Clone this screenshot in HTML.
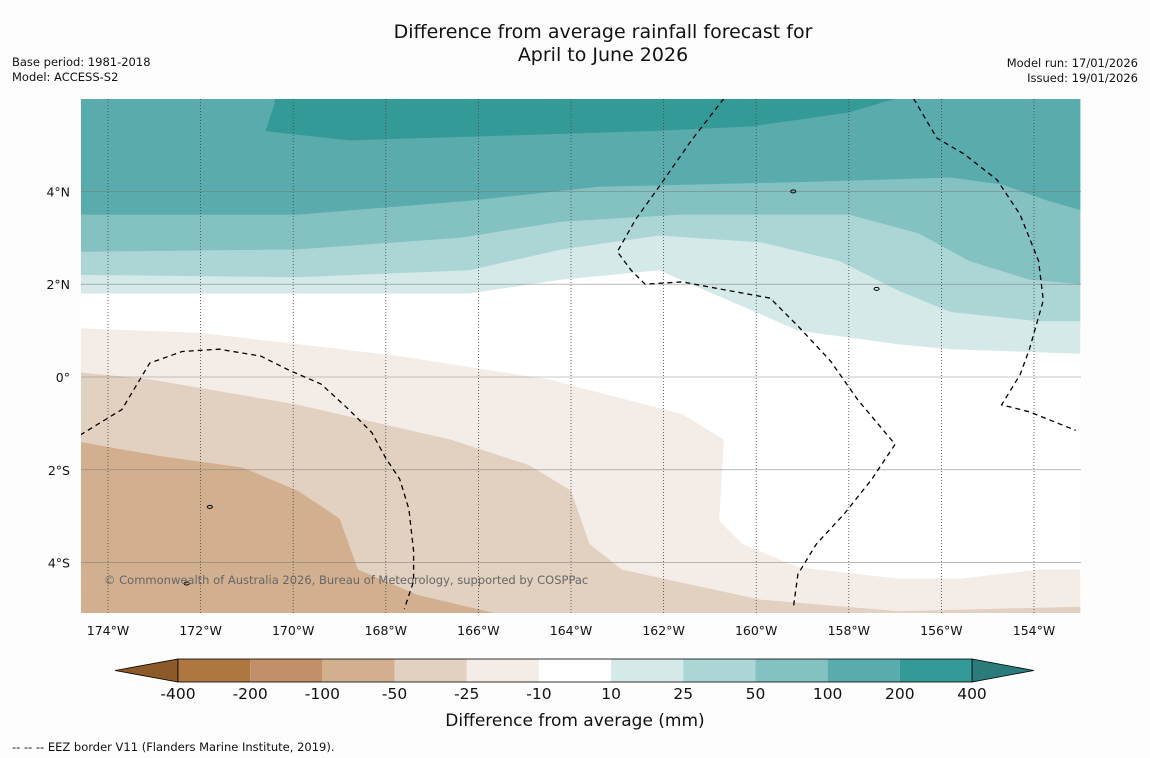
<!DOCTYPE html>
<html><head><meta charset="utf-8"><style>
body{margin:0;background:#fff;font-family:"DejaVu Sans","Liberation Sans",sans-serif;}
svg{display:block}
</style></head><body>
<svg id="c" width="1150" height="758" xmlns="http://www.w3.org/2000/svg" font-family="DejaVu Sans, Liberation Sans, sans-serif">
<rect x="0" y="0" width="1150" height="758" fill="#fdfdfd"/>
<text x="603" y="38" font-size="19" text-anchor="middle" fill="#111">Difference from average rainfall forecast for</text>
<text x="603" y="61" font-size="19" text-anchor="middle" fill="#111">April to June 2026</text>
<text x="12" y="66" font-size="11.5" fill="#111">Base period: 1981-2018</text>
<text x="12" y="81" font-size="11.5" fill="#111">Model: ACCESS-S2</text>
<text x="1138" y="67" font-size="11.5" fill="#111" text-anchor="end">Model run: 17/01/2026</text>
<text x="1138" y="82" font-size="11.5" fill="#111" text-anchor="end">Issued: 19/01/2026</text>
<g id="map"></g>
<g id="cb"></g>
<text x="575" y="726" font-size="17" text-anchor="middle" fill="#111">Difference from average (mm)</text>
<text x="12" y="751" font-size="11.5" fill="#111">--  --  -- EEZ border V11 (Flanders Marine Institute, 2019).</text>
</svg>
<script>
const lonTicks=[-174,-172,-170,-168,-166,-164,-162,-160,-158,-156,-154];
const latTicks=[4,2,0,-2,-4];
const cbLabels=["-400","-200","-100","-50","-25","-10","10","25","50","100","200","400"];
const cbColors=["#ad773f","#c19068","#d2b08f","#e2d0c0","#f4ece6","#ffffff","#d5e9e9","#acd6d6","#84c1c1","#5aabac","#339a98"];
const c10=[[-174.6,1.8],[-166.2,1.8],[-164.2,2.1],[-162.1,2.3],[-160.6,1.65],[-159.9,1.35],[-159.1,1.0],[-156.9,0.7],[-155.8,0.6],[-153.0,0.5]];
const c25=[[-174.6,2.2],[-169.9,2.15],[-166.2,2.3],[-164.2,2.75],[-162.1,3.05],[-159.9,2.9],[-158.2,2.5],[-156.9,1.85],[-155.8,1.4],[-153.9,1.2],[-153.0,1.2]];
const c50=[[-174.6,2.7],[-169.9,2.75],[-166.4,3.0],[-164.2,3.35],[-161.6,3.5],[-158.0,3.5],[-156.5,3.1],[-155.4,2.5],[-154.1,2.1],[-153.0,2.0]];
const c100=[[-174.6,3.5],[-169.9,3.5],[-166.2,3.8],[-163.4,4.1],[-159.1,4.2],[-155.8,4.3],[-154.7,4.15],[-153.7,3.8],[-153.0,3.6]];
const c200=[[-170.4,6.0],[-170.4,5.9],[-170.6,5.3],[-168.8,5.1],[-165.5,5.2],[-162.3,5.3],[-160.1,5.4],[-158.0,5.7],[-157.0,6.0]];
const m10=[[-174.6,1.05],[-172.0,0.95],[-167.7,0.45],[-164.5,-0.05],[-161.6,-0.8],[-160.7,-1.35],[-160.8,-3.1],[-160.3,-3.6],[-159.1,-4.1],[-156.9,-4.35],[-155.6,-4.35],[-153.9,-4.15],[-153.0,-4.15]];
const m25=[[-174.6,0.1],[-173.1,-0.05],[-169.9,-0.6],[-166.6,-1.35],[-164.9,-1.9],[-164.0,-2.45],[-163.6,-3.6],[-162.9,-4.15],[-159.9,-4.8],[-156.9,-5.05],[-153.0,-4.95]];
const m50=[[-174.6,-1.4],[-172.9,-1.7],[-171.1,-1.95],[-169.9,-2.45],[-169.0,-3.05],[-168.6,-4.15],[-167.3,-4.7],[-165.6,-5.1]];
const eez1=[[-174.6,-1.25],[-173.7,-0.7],[-173.1,0.3],[-172.4,0.55],[-171.6,0.6],[-170.7,0.45],[-170.1,0.15],[-169.4,-0.15],[-168.8,-0.7],[-168.3,-1.2],[-168.0,-1.75],[-167.7,-2.2],[-167.5,-2.85],[-167.4,-3.75],[-167.4,-4.4],[-167.6,-5.0]];
const eez2=[[-160.7,6.0],[-161.4,5.1],[-162.1,4.1],[-162.6,3.4],[-163.0,2.7],[-162.7,2.3],[-162.4,2.0],[-161.6,2.05],[-160.8,1.9],[-159.7,1.7],[-159.1,1.1],[-158.4,0.35],[-157.8,-0.5],[-157.0,-1.45],[-157.5,-2.2],[-158.1,-2.95],[-158.7,-3.6],[-159.1,-4.25],[-159.2,-5.0]];
const eez3=[[-156.6,6.0],[-156.1,5.15],[-155.5,4.8],[-154.8,4.25],[-154.3,3.5],[-153.9,2.5],[-153.8,1.65],[-154.1,0.6],[-154.3,0.05],[-154.7,-0.6],[-154.1,-0.75],[-153.1,-1.15]];
const X0=81,X1=1081,Y0=99,Y1=613;
const xs=lon=>108+(lon+174)*46.3;
const ys=lat=>377-lat*46.4;
const NS="http://www.w3.org/2000/svg";
const map=document.getElementById('map');
function mk(t,a,p){const e=document.createElementNS(NS,t);for(const k in a)e.setAttribute(k,a[k]);(p||map).appendChild(e);return e;}
function pts(arr){return arr.map(p=>xs(p[0]).toFixed(1)+','+ys(p[1]).toFixed(1)).join(' ');}
const cp=mk('clipPath',{id:'clp'});mk('rect',{x:X0,y:Y0,width:X1-X0,height:Y1-Y0},cp);
const g=mk('g',{'clip-path':'url(#clp)'});
let e=mk('rect',{x:X0,y:Y0,width:X1-X0,height:Y1-Y0,fill:'#fff'},g);


function topFill(arr,col,name){const a=arr.concat([[arr[arr.length-1][0],7],[arr[0][0],7]]);const p=mk('polygon',{points:pts(a),fill:col},g);

}
function botFill(arr,col,name){const a=arr.concat([[arr[arr.length-1][0],-6],[arr[0][0],-6]]);const p=mk('polygon',{points:pts(a),fill:col},g);

}
topFill(c10,cbColors[6],'contour-10-25');
topFill(c25,cbColors[7],'contour-25-50');
topFill(c50,cbColors[8],'contour-50-100');
topFill(c100,cbColors[9],'contour-100-200');
(function(){const p=mk('polygon',{points:pts(c200),fill:cbColors[10]},g);

})();
botFill(m10,cbColors[4],'contour-minus10-25');
botFill(m25,cbColors[3],'contour-minus25-50');
botFill(m50,cbColors[2],'contour-minus50-100');
latTicks.forEach(l=>{const ln=mk('line',{x1:X0,x2:X1,y1:ys(l),y2:ys(l),stroke:'#777','stroke-width':0.6,opacity:0.8},g);


const t=mk('text',{x:70,y:ys(l)+5,'font-size':12.5,'text-anchor':'end',fill:'#111'});t.textContent=(l>0?l+'°N':l<0?(-l)+'°S':'0°');

});
lonTicks.forEach(l=>{const ln=mk('line',{x1:xs(l),x2:xs(l),y1:Y0,y2:Y1,stroke:'#444','stroke-width':0.8,'stroke-dasharray':'1,2'},g);


const t=mk('text',{x:xs(l),y:635,'font-size':12.5,'text-anchor':'middle',fill:'#111'});t.textContent=(-l)+'°W';

});
[eez1,eez2,eez3].forEach(a=>{const p=mk('polyline',{points:pts(a),fill:'none',stroke:'#000','stroke-width':1.3,'stroke-dasharray':'5,4'},g);

});
[[-159.2,4.0],[-157.4,1.9],[-171.8,-2.8],[-172.3,-4.45]].forEach(p=>{const el=mk('ellipse',{cx:xs(p[0]),cy:ys(p[1]),rx:2.5,ry:1.5,fill:'none',stroke:'#000','stroke-width':1},g);

});
const cr=mk('text',{x:104,y:584,'font-size':11.5,fill:'#666'},g);cr.textContent='© Commonwealth of Australia 2026, Bureau of Meteorology, supported by COSPPac';


const cb=document.getElementById('cb');
const bx0=178,bx1=972,by=659,bh=23,bw=(bx1-bx0)/cbColors.length;
let tri=mk('polygon',{points:`${bx0},${by} ${bx0},${by+bh} 115,${by+bh/2}`,fill:'#8c5a28',stroke:'#000','stroke-width':0.8},cb);


tri=mk('polygon',{points:`${bx1},${by} ${bx1},${by+bh} 1034,${by+bh/2}`,fill:'#2a7c7a',stroke:'#000','stroke-width':0.8},cb);


cbColors.forEach((c,i)=>{const r=mk('rect',{x:bx0+i*bw,y:by,width:bw,height:bh,fill:c},cb);

});
mk('rect',{x:bx0,y:by,width:bx1-bx0,height:bh,fill:'none',stroke:'#000','stroke-width':0.8},cb);
cbLabels.forEach((s,i)=>{const t=mk('text',{x:bx0+i*bw,y:699,'font-size':15.5,'text-anchor':'middle',fill:'#111'},cb);t.textContent=s;

});
</script>
</body></html>
